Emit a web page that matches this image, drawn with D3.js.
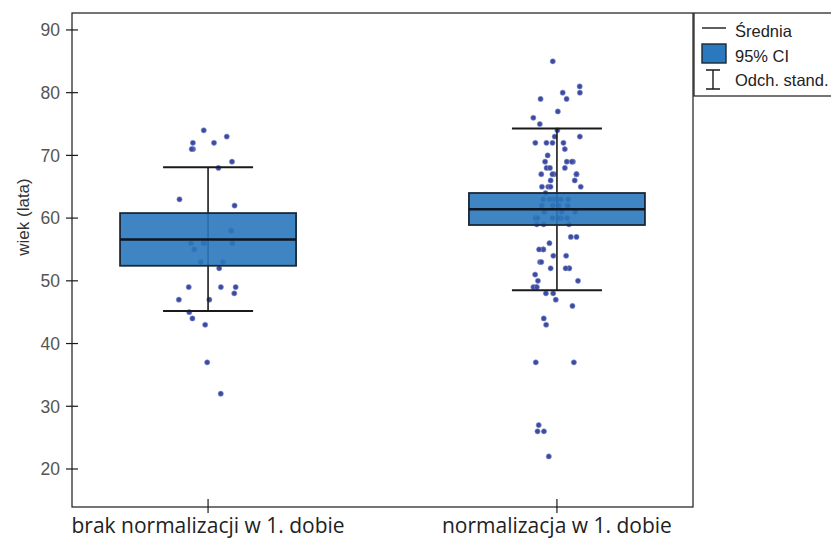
<!DOCTYPE html>
<html>
<head>
<meta charset="utf-8">
<script src="https://cdn.jsdelivr.net/npm/d3@7"></script>
<style>
  html, body { margin: 0; padding: 0; background: #ffffff; }
  svg { display: block; }
</style>
</head>
<body>
<svg id="chart" width="831" height="539"></svg>
<script>
// Groups on the x axis
const categories = ["brak normalizacji w 1. dobie", "normalizacja w 1. dobie"];

// Summary per group: mean, 95% confidence interval, mean ± standard deviation
const means  = [56.6, 61.4];
const ciLow  = [52.4, 58.9];
const ciHigh = [60.8, 64.0];
const sdLow  = [45.2, 48.5];
const sdHigh = [68.1, 74.3];

// Individual ages (years) per group
const agesGroup1 = [74, 73, 72, 72, 71, 71, 69, 68, 63, 62, 58, 58, 56, 55, 56, 56, 56,
  53, 53, 52, 49, 49, 49, 48, 47, 47, 45, 44, 43, 37, 32];
const agesGroup2 = [85, 81, 80, 80, 79, 79, 77, 76, 75, 74, 73, 73, 72, 72, 72, 72, 71, 70,
  69, 69, 69, 69, 68, 68, 68, 67, 67, 67, 67, 67, 66, 66, 65, 65, 65, 65, 64,
  63, 63, 63, 63, 63, 63, 62, 62, 62, 62, 61, 61, 61, 60, 60, 60, 60, 60, 60, 59, 59, 59,
  57, 57, 56, 55, 55, 55, 54, 54, 53, 53, 52, 52, 52, 52, 51, 50, 50,
  49, 49, 49, 48, 48, 47, 46, 44, 43, 37, 37, 27, 26, 26, 22];

// Axis ticks
const yTicks = [20, 30, 40, 50, 60, 70, 80, 90];

// Legend entries
const legendLabels = ["Średnia", "95% CI", "Odch. stand."];

// ---- layout ----
const plot = { left: 72, right: 693, top: 13, bottom: 507 };
const boxFill = "#2a78bd";
const boxStroke = "#1b2836";
const dotColor = "#3c4ba0";

const svg = d3.select("#chart");

const x = d3.scalePoint()
  .domain(categories)
  .range([plot.left, plot.right])
  .padding(0.39);

const y = d3.scaleLinear()
  .domain([13.94, 92.7])
  .range([plot.bottom, plot.top]);

const groups = categories.map((c, i) => ({
  cat: c,
  mean: means[i], lo: ciLow[i], hi: ciHigh[i], sdLo: sdLow[i], sdHi: sdHigh[i],
  ages: [agesGroup1, agesGroup2][i]
}));

const boxHalf = 88;
const capHalf = 45;
const jitterHalf = [30, 24];

// Plot frame
svg.append("rect")
  .attr("x", plot.left).attr("y", plot.top)
  .attr("width", plot.right - plot.left).attr("height", plot.bottom - plot.top)
  .attr("fill", "none").attr("stroke", "#1a1a1a").attr("stroke-width", 1.2);

// Deterministic horizontal jitter for the strip of points
const rnd = d3.randomUniform.source(d3.randomLcg(0.4217))(-1, 1);

const g = svg.append("g");

groups.forEach((d, gi) => {
  const cx = x(d.cat);
  // points
  g.append("g").selectAll("circle")
    .data(d.ages)
    .join("circle")
    .attr("cx", () => cx + rnd() * jitterHalf[gi])
    .attr("cy", v => y(v))
    .attr("r", 2.6)
    .attr("fill", dotColor)
    .attr("stroke", "#8a95d0")
    .attr("stroke-width", 0.6);

  // standard deviation whisker
  g.append("line")
    .attr("x1", cx).attr("x2", cx)
    .attr("y1", y(d.sdLo)).attr("y2", y(d.sdHi))
    .attr("stroke", "#1a1a1a").attr("stroke-width", 1.6);
  [d.sdLo, d.sdHi].forEach(v => {
    g.append("line")
      .attr("x1", cx - capHalf).attr("x2", cx + capHalf)
      .attr("y1", y(v)).attr("y2", y(v))
      .attr("stroke", "#1a1a1a").attr("stroke-width", 2);
  });

  // confidence interval box
  g.append("rect")
    .attr("x", cx - boxHalf).attr("width", boxHalf * 2)
    .attr("y", y(d.hi)).attr("height", y(d.lo) - y(d.hi))
    .attr("fill", boxFill).attr("fill-opacity", 0.9)
    .attr("stroke", boxStroke).attr("stroke-width", 1.8);

  // mean line
  g.append("line")
    .attr("x1", cx - boxHalf).attr("x2", cx + boxHalf)
    .attr("y1", y(d.mean)).attr("y2", y(d.mean))
    .attr("stroke", "#0d1520").attr("stroke-width", 2.4);
});

// Y axis ticks (crossing the axis line) and labels
const yAxis = svg.append("g");
yAxis.selectAll("line")
  .data(yTicks)
  .join("line")
  .attr("x1", plot.left - 6).attr("x2", plot.left + 6)
  .attr("y1", v => y(v)).attr("y2", v => y(v))
  .attr("stroke", "#1a1a1a").attr("stroke-width", 1.2);
yAxis.selectAll("text")
  .data(yTicks)
  .join("text")
  .attr("x", plot.left - 12)
  .attr("y", v => y(v))
  .attr("dy", "0.36em")
  .attr("text-anchor", "end")
  .attr("font-family", "Liberation Sans, Arial, sans-serif")
  .attr("font-size", 17.5)
  .attr("fill", "#555")
  .text(v => v);

svg.append("text")
  .attr("transform", `translate(${23},${217}) rotate(-90)`)
  .attr("text-anchor", "middle")
  .attr("dy", "0.36em")
  .attr("font-family", "Liberation Sans, Arial, sans-serif")
  .attr("font-size", 17)
  .attr("fill", "#333")
  .text("wiek (lata)");

// X axis ticks and category labels
const xAxis = svg.append("g");
xAxis.selectAll("line")
  .data(categories)
  .join("line")
  .attr("x1", c => x(c)).attr("x2", c => x(c))
  .attr("y1", plot.bottom - 8).attr("y2", plot.bottom + 6)
  .attr("stroke", "#1a1a1a").attr("stroke-width", 1.2);
xAxis.selectAll("text")
  .data(categories)
  .join("text")
  .attr("x", c => x(c))
  .attr("y", 533)
  .attr("text-anchor", "middle")
  .attr("font-family", "Open Sans, Noto Sans, sans-serif")
  .attr("font-size", 21)
  .attr("fill", "#222")
  .text(c => c);

// Legend
const lg = svg.append("g");
lg.append("rect")
  .attr("x", 694).attr("y", plot.top)
  .attr("width", 140).attr("height", 83)
  .attr("fill", "#fff").attr("stroke", "#1a1a1a").attr("stroke-width", 1.2);
lg.append("line")
  .attr("x1", 702).attr("x2", 726).attr("y1", 28).attr("y2", 28)
  .attr("stroke", "#1a1a1a").attr("stroke-width", 1.4);
lg.append("rect")
  .attr("x", 702).attr("y", 44).attr("width", 24).attr("height", 19)
  .attr("fill", boxFill).attr("stroke", boxStroke).attr("stroke-width", 1.4);
lg.append("path")
  .attr("d", "M706,70H720M713,70V89M706,89H720")
  .attr("fill", "none").attr("stroke", "#1a1a1a").attr("stroke-width", 1.4);
lg.selectAll("text")
  .data(legendLabels)
  .join("text")
  .attr("x", 735)
  .attr("y", (d, i) => 37 + i * 24.5)
  .attr("font-family", "Liberation Sans, Arial, sans-serif")
  .attr("font-size", 16.5)
  .attr("fill", "#222")
  .text(d => d);
</script>
</body>
</html>
